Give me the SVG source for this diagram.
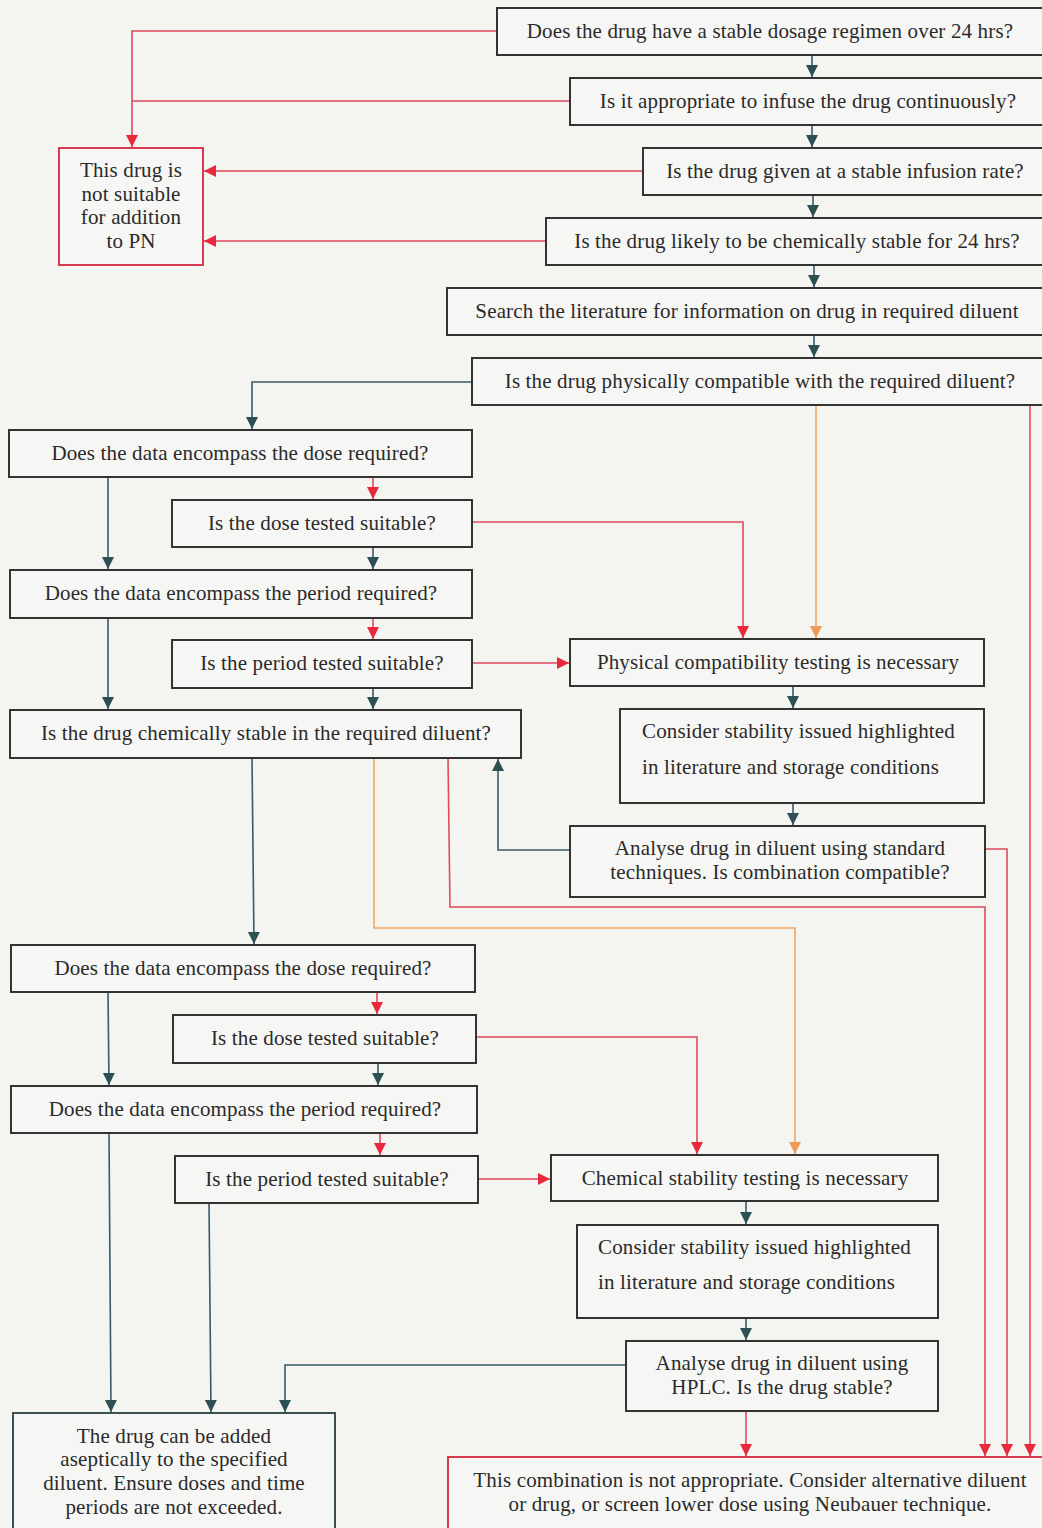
<svg xmlns="http://www.w3.org/2000/svg" width="1042" height="1528" viewBox="0 0 1042 1528">
<style>
.bg{fill:#f4f4f1}
.box rect{fill:#f6f6f4;stroke:#333;stroke-width:2}
.red rect{stroke:#d83a50}
.teal rect{stroke:#3b4f55}
text{font-family:"Liberation Serif","Times New Roman",serif;font-size:21px;letter-spacing:0.15px;fill:#2a2a2a}
.c{text-anchor:middle}
.lr{fill:none;stroke:#e04a5c;stroke-width:1.6}
.lt{fill:none;stroke:#3a5a6a;stroke-width:1.6}
.lo{fill:none;stroke:#f0a868;stroke-width:1.6}
</style>
<defs>
<marker id="ar" markerUnits="userSpaceOnUse" markerWidth="14" markerHeight="14" refX="12" refY="7" orient="auto"><path d="M0,1 L12,7 L0,13 Z" fill="#e8283c"/></marker>
<marker id="at" markerUnits="userSpaceOnUse" markerWidth="14" markerHeight="14" refX="12" refY="7" orient="auto"><path d="M0,1 L12,7 L0,13 Z" fill="#2d5055"/></marker>
<marker id="ao" markerUnits="userSpaceOnUse" markerWidth="14" markerHeight="14" refX="12" refY="7" orient="auto"><path d="M0,1 L12,7 L0,13 Z" fill="#f09a58"/></marker>
</defs>
<rect class="bg" x="0" y="0" width="1042" height="1528"/>

<g id="connectors">
<polyline class="lr" points="497,31 132,31 132,147" marker-end="url(#ar)"/>
<polyline class="lr" points="570,101 132,101"/>
<polyline class="lr" points="643,171 204,171" marker-end="url(#ar)"/>
<polyline class="lr" points="546,241 204,241" marker-end="url(#ar)"/>
<line class="lt" x1="812" y1="55" x2="812" y2="77" marker-end="url(#at)"/>
<line class="lt" x1="812" y1="125" x2="812" y2="147" marker-end="url(#at)"/>
<line class="lt" x1="813" y1="195" x2="813" y2="217" marker-end="url(#at)"/>
<line class="lt" x1="814" y1="265" x2="814" y2="287" marker-end="url(#at)"/>
<line class="lt" x1="814" y1="335" x2="814" y2="357" marker-end="url(#at)"/>
<polyline class="lt" points="472,382 252,382 252,429" marker-end="url(#at)"/>
<line class="lo" x1="816" y1="405" x2="816" y2="638" marker-end="url(#ao)"/>
<line class="lr" x1="1030" y1="405" x2="1030" y2="1456" marker-end="url(#ar)"/>
<line class="lr" x1="373" y1="477" x2="373" y2="499" marker-end="url(#ar)"/>
<line class="lt" x1="373" y1="547" x2="373" y2="569" marker-end="url(#at)"/>
<line class="lt" x1="108" y1="477" x2="108" y2="569" marker-end="url(#at)"/>
<line class="lr" x1="373" y1="618" x2="373" y2="639" marker-end="url(#ar)"/>
<line class="lt" x1="373" y1="688" x2="373" y2="709" marker-end="url(#at)"/>
<line class="lt" x1="108" y1="618" x2="108" y2="709" marker-end="url(#at)"/>
<polyline class="lr" points="472,522 743,522 743,638" marker-end="url(#ar)"/>
<line class="lr" x1="472" y1="663" x2="569" y2="663" marker-end="url(#ar)"/>
<line class="lt" x1="793" y1="686" x2="793" y2="708" marker-end="url(#at)"/>
<line class="lt" x1="793" y1="803" x2="793" y2="825" marker-end="url(#at)"/>
<polyline class="lt" points="570,850 498,850 498,759" marker-end="url(#at)"/>
<polyline class="lr" points="985,849 1007,849 1007,1456" marker-end="url(#ar)"/>
<polyline class="lr" points="448,758 450,907 985,907 985,1456" marker-end="url(#ar)"/>
<polyline class="lo" points="374,758 374,928 795,928 795,1154" marker-end="url(#ao)"/>
<line class="lt" x1="252" y1="758" x2="254" y2="944" marker-end="url(#at)"/>
<line class="lr" x1="377" y1="992" x2="377" y2="1014" marker-end="url(#ar)"/>
<line class="lt" x1="378" y1="1063" x2="378" y2="1085" marker-end="url(#at)"/>
<line class="lt" x1="108" y1="992" x2="109" y2="1085" marker-end="url(#at)"/>
<line class="lr" x1="380" y1="1133" x2="380" y2="1155" marker-end="url(#ar)"/>
<polyline class="lr" points="476,1037 697,1037 697,1154" marker-end="url(#ar)"/>
<line class="lr" x1="478" y1="1179" x2="550" y2="1179" marker-end="url(#ar)"/>
<line class="lt" x1="746" y1="1201" x2="746" y2="1224" marker-end="url(#at)"/>
<line class="lt" x1="746" y1="1318" x2="746" y2="1340" marker-end="url(#at)"/>
<polyline class="lt" points="626,1365 285,1365 285,1412" marker-end="url(#at)"/>
<line class="lr" x1="746" y1="1411" x2="746" y2="1456" marker-end="url(#ar)"/>
<line class="lt" x1="109" y1="1133" x2="111" y2="1412" marker-end="url(#at)"/>
<line class="lt" x1="209" y1="1203" x2="211" y2="1412" marker-end="url(#at)"/>
</g>

<g id="n1" class="box"><rect x="497" y="8" width="550" height="47"/><text class="c" x="770" y="38">Does the drug have a stable dosage regimen over 24 hrs?</text></g>
<g id="n2" class="box"><rect x="570" y="78" width="477" height="47"/><text class="c" x="808" y="108">Is it appropriate to infuse the drug continuously?</text></g>
<g id="n3" class="box"><rect x="643" y="148" width="404" height="47"/><text class="c" x="845" y="178">Is the drug given at a stable infusion rate?</text></g>
<g id="n4" class="box"><rect x="546" y="218" width="501" height="47"/><text class="c" x="797" y="248">Is the drug likely to be chemically stable for 24 hrs?</text></g>
<g id="n5" class="box"><rect x="447" y="288" width="600" height="47"/><text class="c" x="747" y="318">Search the literature for information on drug in required diluent</text></g>
<g id="n6" class="box"><rect x="472" y="358" width="575" height="47"/><text class="c" x="760" y="388">Is the drug physically compatible with the required diluent?</text></g>
<g id="n7" class="box red"><rect x="59" y="148" width="144" height="117"/>
<text class="c" x="131" y="177">This drug is</text><text class="c" x="131" y="201">not suitable</text><text class="c" x="131" y="224">for addition</text><text class="c" x="131" y="248">to PN</text></g>

<g id="n8" class="box"><rect x="9" y="430" width="463" height="47"/><text class="c" x="240" y="460">Does the data encompass the dose required?</text></g>
<g id="n9" class="box"><rect x="172" y="500" width="300" height="47"/><text class="c" x="322" y="530">Is the dose tested suitable?</text></g>
<g id="n10" class="box"><rect x="10" y="570" width="462" height="48"/><text class="c" x="241" y="600">Does the data encompass the period required?</text></g>
<g id="n11" class="box"><rect x="172" y="640" width="300" height="48"/><text class="c" x="322" y="670">Is the period tested suitable?</text></g>
<g id="n12" class="box"><rect x="10" y="710" width="511" height="48"/><text class="c" x="266" y="740">Is the drug chemically stable in the required diluent?</text></g>

<g id="n13" class="box"><rect x="570" y="639" width="414" height="47"/><text class="c" x="778" y="669">Physical compatibility testing is necessary</text></g>
<g id="n14" class="box"><rect x="620" y="709" width="364" height="94"/><text x="642" y="738">Consider stability issued highlighted</text><text x="642" y="774">in literature and storage conditions</text></g>
<g id="n15" class="box"><rect x="570" y="826" width="415" height="71"/><text class="c" x="780" y="855">Analyse drug in diluent using standard</text><text class="c" x="780" y="879">techniques. Is combination compatible?</text></g>

<g id="n16" class="box"><rect x="11" y="945" width="464" height="47"/><text class="c" x="243" y="975">Does the data encompass the dose required?</text></g>
<g id="n17" class="box"><rect x="173" y="1015" width="303" height="48"/><text class="c" x="325" y="1045">Is the dose tested suitable?</text></g>
<g id="n18" class="box"><rect x="11" y="1086" width="466" height="47"/><text class="c" x="245" y="1116">Does the data encompass the period required?</text></g>
<g id="n19" class="box"><rect x="175" y="1156" width="303" height="47"/><text class="c" x="327" y="1186">Is the period tested suitable?</text></g>

<g id="n20" class="box"><rect x="551" y="1155" width="387" height="46"/><text class="c" x="745" y="1185">Chemical stability testing is necessary</text></g>
<g id="n21" class="box"><rect x="577" y="1225" width="361" height="93"/><text x="598" y="1254">Consider stability issued highlighted</text><text x="598" y="1289">in literature and storage conditions</text></g>
<g id="n22" class="box"><rect x="626" y="1341" width="312" height="70"/><text class="c" x="782" y="1370">Analyse drug in diluent using</text><text class="c" x="782" y="1394">HPLC. Is the drug stable?</text></g>

<g id="n23" class="box teal"><rect x="13" y="1413" width="322" height="120"/>
<text class="c" x="174" y="1443">The drug can be added</text><text class="c" x="174" y="1466">aseptically to the specified</text><text class="c" x="174" y="1490">diluent. Ensure doses and time</text><text class="c" x="174" y="1514">periods are not exceeded.</text></g>
<g id="n24" class="box red"><rect x="448" y="1457" width="600" height="80"/>
<text class="c" x="750" y="1487">This combination is not appropriate. Consider alternative diluent</text><text class="c" x="750" y="1511">or drug, or screen lower dose using Neubauer technique.</text></g>
</svg>
